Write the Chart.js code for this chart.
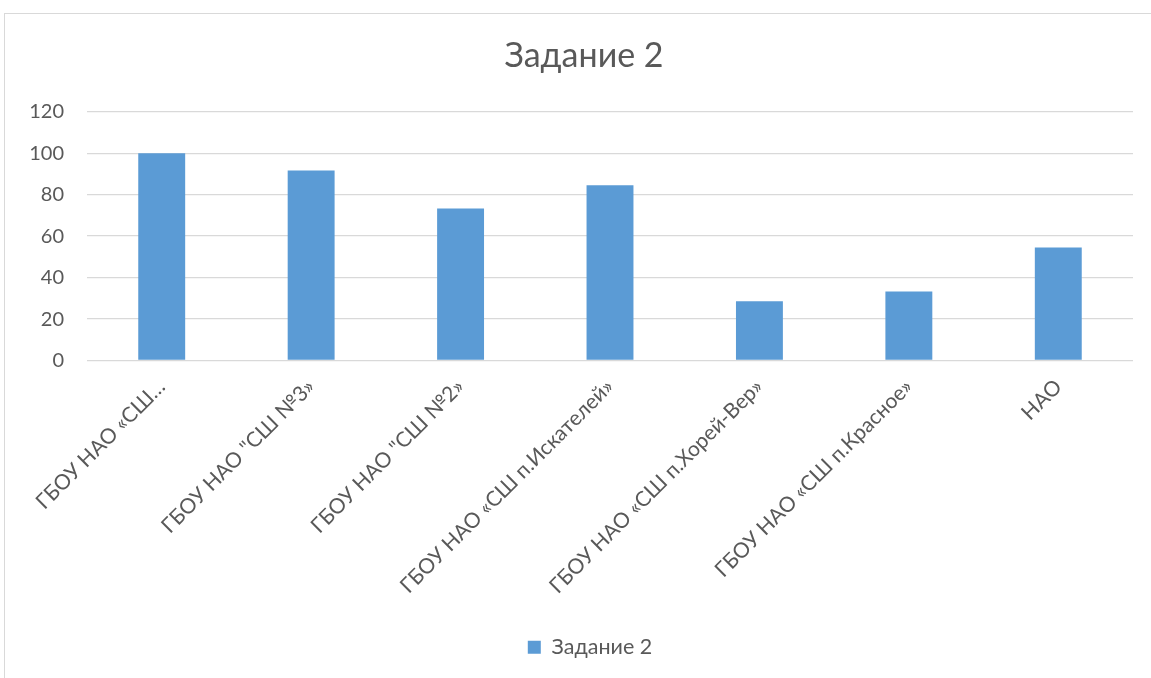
<!DOCTYPE html>
<html>
<head>
<meta charset="utf-8">
<script src="https://cdn.jsdelivr.net/npm/chart.js@4"></script>
<style>
  html, body { margin: 0; padding: 0; background: #fff; }
  #marco {
    position: absolute; left: 4px; top: 13px;
    width: 1146px; height: 680px;
    border: 1px solid #d9d9d9;
  }
  #myChart { display: block; }
</style>
</head>
<body>
<div id="marco">
  <canvas id="myChart" width="1146" height="664"></canvas>
</div>
<script>
// datos
const escuelas = [
    'ГБОУ НАО «СШ…',
    'ГБОУ НАО "СШ №3»',
    'ГБОУ НАО "СШ №2»',
    'ГБОУ НАО «СШ п.Искателей»',
    'ГБОУ НАО «СШ п.Хорей-Вер»',
    'ГБОУ НАО «СШ п.Красное»',
    'НАО'
];
const zadanie2 = [100, 91.7, 73.3, 84.6, 28.6, 33.3, 54.5];
const etiquetaSerie = 'Задание 2';
const tituloGrafica = 'Задание 2';
const ejeMin = 0;
const ejeMax = 120;
const ejePaso = 20;

const gris = '#595959';
const fuente = 'Lato, "Open Sans", sans-serif';

let myChart;

// en Excel titulo y leyenda quedan un poco mas a la derecha
const moverCajas = {
    id: 'moverCajas',
    afterLayout(chart) {
        if (chart.legend) {
            chart.legend.left += 21;
            chart.legend.right += 21;
        }
        if (chart.titleBlock) {
            chart.titleBlock.left += 15;
            chart.titleBlock.right += 15;
        }
    }
};

function generarGrafica() {
    var ctx = document.getElementById('myChart').getContext('2d');
    if (myChart) {
        myChart.destroy();
    }
    myChart = new Chart(ctx, {
        type: 'bar',
        plugins: [moverCajas],
        data: {
            labels: escuelas,
            datasets: [{
                label: etiquetaSerie,
                data: zadanie2,
                backgroundColor: '#5b9bd5',
                borderWidth: 0,
                barPercentage: 0.314,
                categoryPercentage: 1
            }]
        },
        options: {
            responsive: false,
            animation: false,
            layout: {
                padding: { left: 0, right: 18, top: 0, bottom: 10 }
            },
            plugins: {
                title: {
                    display: true,
                    text: tituloGrafica,
                    color: gris,
                    font: { family: fuente, size: 34, weight: 'normal' },
                    padding: { top: 22, bottom: 35 }
                },
                legend: {
                    position: 'bottom',
                    labels: {
                        color: gris,
                        font: { family: fuente, size: 21.5 },
                        boxWidth: 13,
                        boxHeight: 13,
                        padding: 10
                    }
                },
                tooltip: { enabled: false }
            },
            scales: {
                x: {
                    grid: { display: false },
                    border: { display: false },
                    ticks: {
                        color: gris,
                        font: { family: fuente, size: 21 },
                        minRotation: 45,
                        maxRotation: 45,
                        autoSkip: false,
                        labelOffset: 0,
                        padding: 6
                    },
                    afterFit: function (s) { s.height = 266; }
                },
                y: {
                    min: ejeMin,
                    max: ejeMax,
                    grid: { color: '#d9d9d9', lineWidth: 1.3, drawTicks: false },
                    border: { display: false },
                    ticks: {
                        stepSize: ejePaso,
                        color: gris,
                        font: { family: fuente, size: 20 },
                        padding: 23
                    },
                    afterFit: function (s) { s.width = 82; }
                }
            }
        }
    });
}

generarGrafica();
</script>
</body>
</html>
